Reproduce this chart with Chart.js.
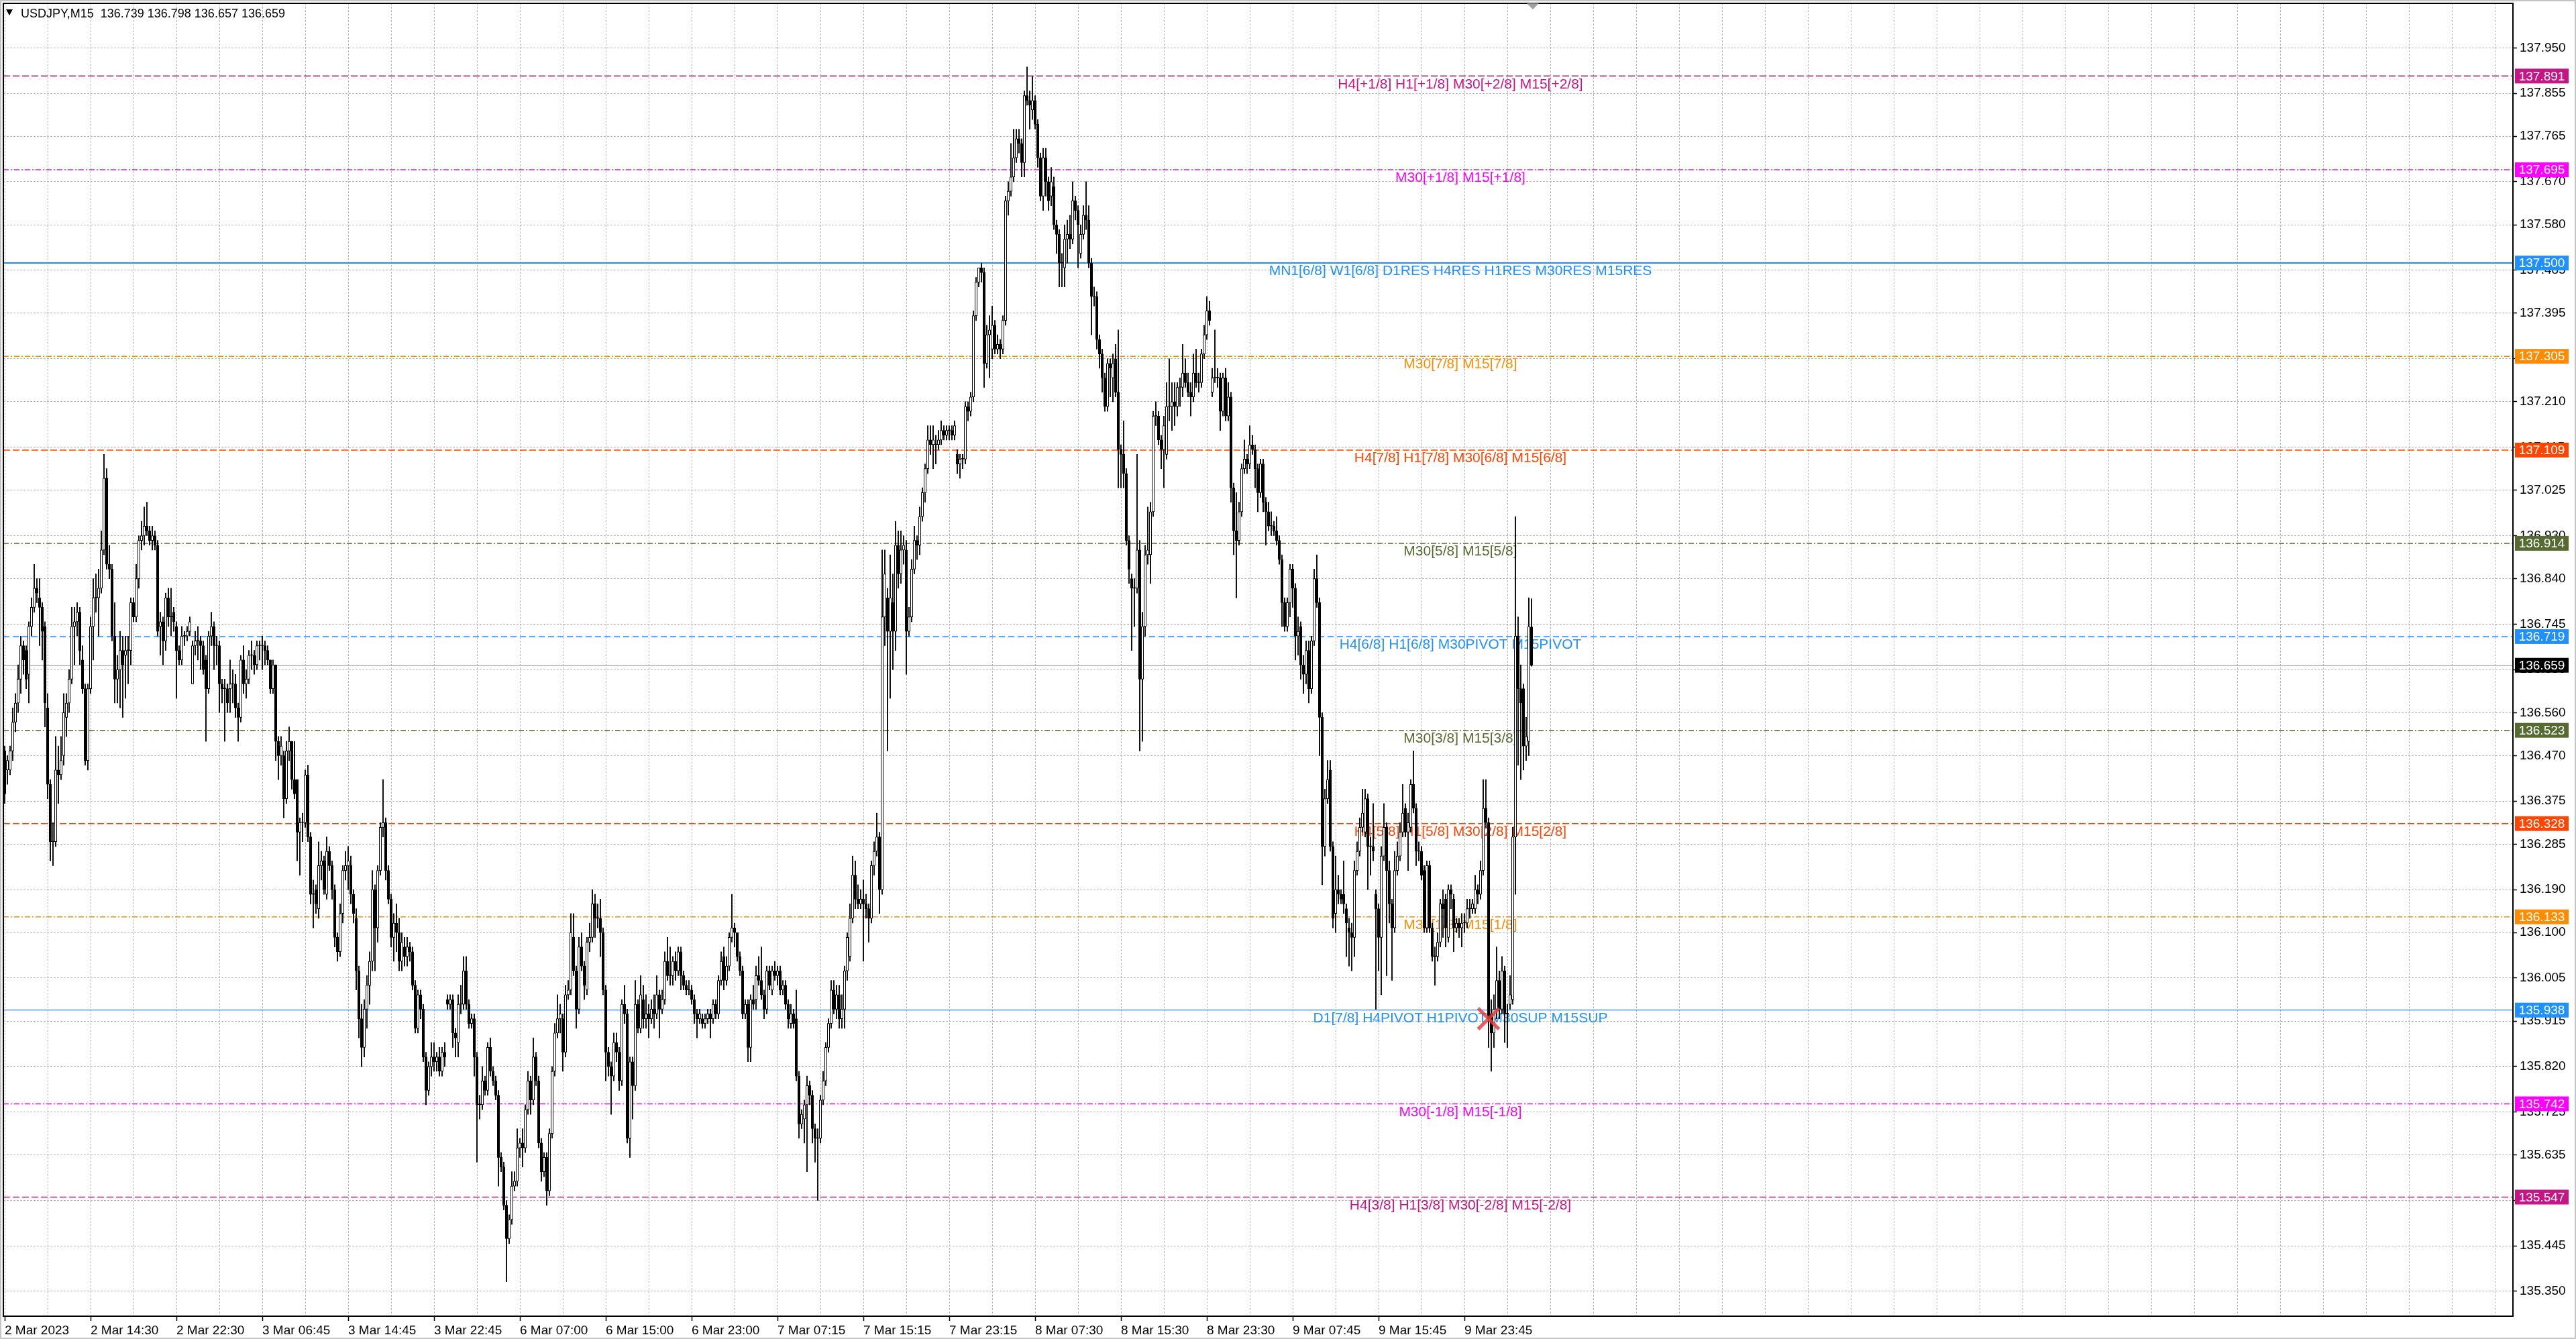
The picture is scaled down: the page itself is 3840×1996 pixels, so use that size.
<!DOCTYPE html>
<html>
<head>
<meta charset="utf-8">
<title>USDJPY,M15</title>
<script src="https://cdn.jsdelivr.net/npm/chart.js@4.4.1/dist/chart.umd.min.js"></script>
<style>
html, body { margin: 0; padding: 0; background: #fff; overflow: hidden; }
#wrap { position: relative; width: 3840px; height: 1996px; }
</style>
</head>
<body>
<div id="wrap"><canvas id="myChart"></canvas></div>
<script>
const symbol = 'USDJPY,M15';

// M15 bars, 2 Mar 2023 06:30 onwards (570 bars)
const barOpen = [
136.48,136.44,136.44,136.48,136.54,136.58,136.63,136.70,136.69,136.64,
136.74,136.78,136.82,136.80,136.78,136.74,136.57,136.41,136.29,136.29,
136.44,136.43,136.47,136.55,136.58,136.63,136.74,136.75,136.77,136.67,
136.61,136.46,136.61,136.74,136.80,136.80,136.82,136.90,137.05,136.87,
136.86,136.72,136.63,136.65,136.69,136.68,136.69,136.69,136.79,136.76,
136.84,136.92,136.93,136.95,136.94,136.92,136.93,136.91,136.74,136.75,
136.71,136.80,136.76,136.77,136.74,136.69,136.67,136.72,136.72,136.73,
136.62,136.70,136.71,136.71,136.70,136.67,136.61,136.72,136.74,136.70,
136.70,136.62,136.61,136.61,136.61,136.62,136.62,136.57,136.55,136.67,
136.62,136.63,136.68,136.68,136.66,136.70,136.70,136.70,136.69,136.67,
136.61,136.66,136.50,136.47,136.47,136.38,136.48,136.50,136.42,136.42,
136.31,136.33,136.33,136.43,136.30,136.18,136.19,136.15,136.24,136.25,
136.18,136.27,136.24,136.19,136.09,136.06,136.14,136.23,136.24,136.24,
136.18,136.13,136.02,135.92,135.86,135.94,135.99,136.04,136.19,136.11,
136.23,136.32,136.33,136.23,136.17,136.09,136.12,136.10,136.04,136.07,
136.05,136.07,136.06,135.99,135.90,135.97,135.94,135.84,135.77,135.82,
135.84,135.83,135.84,135.81,135.85,135.96,135.95,135.96,135.89,135.87,
135.95,135.95,136.02,135.95,135.91,135.92,135.84,135.74,135.74,135.79,
135.77,135.86,135.81,135.79,135.76,135.63,135.61,135.53,135.46,135.50,
135.57,135.58,135.65,135.66,135.65,135.73,135.79,135.75,135.84,135.79,
135.66,135.60,135.63,135.56,135.68,135.81,135.89,135.92,135.92,135.85,
135.97,135.98,136.09,136.02,135.94,136.07,136.03,135.98,136.08,136.09,
136.16,136.13,136.13,136.10,135.98,135.85,135.82,135.80,135.87,135.85,
135.79,135.95,135.93,135.67,135.83,135.78,135.95,135.90,135.96,135.92,
135.93,135.92,135.94,135.93,135.97,135.94,135.96,136.04,136.01,136.01,
136.04,136.02,136.06,136.01,135.99,135.98,135.98,135.96,135.93,135.92,
135.92,135.91,135.92,135.93,135.92,135.95,135.93,136.00,136.05,136.00,
136.03,136.09,136.11,136.10,136.05,136.02,135.93,135.95,135.86,135.96,
135.96,136.01,136.00,135.97,135.94,136.02,135.98,136.02,136.01,136.02,
135.98,135.99,135.95,135.91,135.93,135.92,135.80,135.70,135.71,135.74,
135.78,135.76,135.69,135.67,135.67,135.75,135.79,135.86,135.91,135.98,
135.94,135.97,135.92,135.94,136.02,136.05,136.13,136.22,136.17,136.16,
136.17,136.16,136.15,136.13,136.24,136.27,136.30,136.19,136.76,136.80,
136.73,136.79,136.73,136.91,136.85,136.90,136.90,136.73,136.76,136.86,
136.92,136.91,136.97,137.02,137.07,137.13,137.12,137.12,137.12,137.13,
137.15,137.14,137.15,137.15,137.14,137.10,137.08,137.09,137.09,137.20,
137.19,137.22,137.39,137.46,137.49,137.48,137.29,137.35,137.32,137.37,
137.32,137.33,137.32,137.38,137.63,137.65,137.68,137.72,137.76,137.75,
137.71,137.85,137.84,137.82,137.84,137.79,137.72,137.64,137.72,137.67,
137.64,137.66,137.58,137.56,137.50,137.49,137.55,137.56,137.55,137.63,
137.61,137.52,137.56,137.60,137.59,137.50,137.43,137.43,137.34,137.31,
137.26,137.20,137.29,137.26,137.30,137.23,137.11,137.10,137.06,136.92,
136.84,136.82,136.82,136.90,136.63,136.74,136.89,136.89,136.98,137.18,
137.18,137.13,137.11,137.10,137.20,137.20,137.21,137.20,137.24,137.24,
137.27,137.25,137.23,137.22,137.27,137.25,137.25,137.31,137.35,137.40,
137.23,137.26,137.26,137.26,137.19,137.26,137.18,137.22,137.03,136.94,
136.92,136.98,137.07,137.09,137.08,137.12,137.11,137.07,137.02,137.08,
137.00,136.98,136.95,136.95,136.94,136.92,136.88,136.79,136.74,136.79,
136.86,136.82,136.72,136.74,136.66,136.64,136.69,136.61,136.71,136.84,
136.79,136.55,136.28,136.38,136.44,136.28,136.14,136.19,136.18,136.18,
136.15,136.11,136.10,136.09,136.23,136.27,136.32,136.31,136.38,136.28,
136.28,136.18,136.15,136.09,136.26,136.32,136.23,136.16,136.11,136.23,
136.26,136.31,136.36,136.31,136.32,136.41,136.36,136.27,136.27,136.23,
136.11,136.24,136.11,136.05,136.05,136.08,136.16,136.17,136.09,136.19,
136.17,136.11,136.12,136.11,136.12,136.12,136.15,136.15,136.15,136.19,
136.18,136.23,136.36,136.33,135.93,135.89,135.94,136.00,135.94,136.02,
135.93,135.95,135.96,136.30,136.72,136.61,136.61,136.49,136.50,136.739
];
const barHigh = [
136.49,136.47,136.49,136.57,136.60,136.66,136.72,136.71,136.70,136.75,
136.80,136.87,136.84,136.84,136.79,136.75,136.60,136.42,136.33,136.51,
136.49,136.51,136.60,136.60,136.65,136.78,136.78,136.79,136.78,136.70,
136.62,136.62,136.76,136.84,136.85,136.86,136.94,137.10,137.07,136.91,
136.87,136.79,136.68,136.73,136.72,136.72,136.72,136.80,136.80,136.87,
136.93,136.96,136.99,137.00,136.95,136.95,136.94,136.92,136.77,136.76,
136.81,136.82,136.82,136.78,136.75,136.70,136.74,136.73,136.74,136.76,
136.71,136.73,136.74,136.72,136.71,136.68,136.73,136.77,136.75,136.72,
136.71,136.63,136.63,136.62,136.67,136.65,136.64,136.58,136.68,136.70,
136.65,136.69,136.71,136.69,136.71,136.71,136.72,136.71,136.70,136.67,
136.67,136.66,136.51,136.51,136.48,136.50,136.53,136.50,136.50,136.42,
136.34,136.35,136.44,136.45,136.31,136.21,136.20,136.29,136.27,136.26,
136.30,136.28,136.25,136.20,136.10,136.16,136.24,136.27,136.28,136.26,
136.19,136.15,136.03,135.95,135.96,136.01,136.06,136.23,136.20,136.24,
136.33,136.42,136.34,136.24,136.18,136.14,136.16,136.13,136.10,136.09,
136.09,136.08,136.07,136.00,135.98,135.98,135.95,135.85,135.83,135.87,
135.87,135.85,135.86,135.86,135.87,135.97,135.97,135.97,135.90,135.97,
135.99,136.05,136.05,135.96,135.93,135.93,135.85,135.76,135.82,135.80,
135.87,135.88,135.82,135.80,135.77,135.64,135.62,135.54,135.51,135.60,
135.60,135.69,135.67,135.69,135.74,135.81,135.80,135.88,135.85,135.80,
135.67,135.64,135.64,135.69,135.82,135.91,135.97,135.95,135.93,135.99,
136.00,136.14,136.14,136.03,136.09,136.10,136.04,136.09,136.12,136.19,
136.18,136.16,136.17,136.11,135.99,135.86,135.83,135.89,135.89,135.86,
135.96,135.99,135.94,135.84,135.84,136.00,135.96,136.01,135.99,135.97,
135.95,135.96,135.97,136.01,135.98,135.98,136.06,136.09,136.07,136.05,
136.06,136.07,136.07,136.02,136.00,136.00,135.99,135.97,135.94,135.94,
135.93,135.93,135.94,135.94,135.96,135.96,136.01,136.06,136.07,136.05,
136.10,136.18,136.12,136.10,136.06,136.03,135.96,135.96,135.97,135.99,
136.03,136.05,136.07,135.98,136.03,136.03,136.03,136.04,136.03,136.03,
136.00,136.00,135.96,135.95,135.94,135.98,135.81,135.73,135.75,135.80,
135.79,135.77,135.70,135.69,135.76,135.81,135.87,135.92,136.00,136.00,
135.99,135.99,135.97,136.03,136.10,136.16,136.26,136.25,136.20,136.19,
136.21,136.18,136.16,136.25,136.29,136.35,136.31,136.90,136.90,136.82,
136.89,136.85,136.96,136.94,136.94,136.93,136.92,136.78,136.88,136.95,
136.93,136.99,137.03,137.08,137.16,137.16,137.16,137.14,137.15,137.17,
137.16,137.16,137.16,137.16,137.17,137.11,137.10,137.10,137.21,137.21,
137.23,137.40,137.47,137.49,137.50,137.49,137.37,137.39,137.41,137.38,
137.35,137.34,137.39,137.64,137.67,137.75,137.78,137.78,137.78,137.76,
137.86,137.91,137.86,137.89,137.85,137.80,137.73,137.74,137.74,137.68,
137.70,137.68,137.59,137.57,137.52,137.58,137.59,137.60,137.67,137.64,
137.62,137.58,137.62,137.67,137.62,137.51,137.45,137.44,137.35,137.32,
137.27,137.30,137.30,137.31,137.33,137.36,137.12,137.17,137.07,136.93,
136.85,136.84,137.10,136.92,136.77,136.91,136.99,137.00,137.19,137.21,
137.19,137.14,137.18,137.25,137.30,137.25,137.25,137.25,137.26,137.33,
137.30,137.27,137.25,137.31,137.32,137.27,137.32,137.37,137.43,137.42,
137.28,137.36,137.28,137.27,137.27,137.28,137.25,137.23,137.04,137.02,
137.00,137.08,137.13,137.10,137.16,137.14,137.12,137.08,137.09,137.09,
137.01,137.00,136.98,136.96,136.97,136.93,136.89,136.80,136.80,136.87,
136.87,136.83,136.76,136.75,136.68,136.71,136.71,136.72,136.86,136.89,
136.80,136.56,136.40,136.46,136.46,136.29,136.26,136.22,136.19,136.25,
136.16,136.13,136.12,136.25,136.29,136.34,136.40,136.40,136.39,136.30,
136.37,136.19,136.16,136.28,136.37,136.33,136.25,136.17,136.27,136.29,
136.33,136.41,136.37,136.35,136.42,136.48,136.37,136.29,136.28,136.24,
136.25,136.25,136.12,136.07,136.10,136.17,136.19,136.18,136.20,136.20,
136.18,136.13,136.13,136.14,136.14,136.17,136.17,136.17,136.22,136.20,
136.25,136.42,136.42,136.34,135.96,135.97,136.07,136.02,136.05,136.03,
135.95,136.01,136.32,136.97,136.76,136.66,136.62,136.55,136.80,136.798
];
const barLow = [
136.37,136.41,136.43,136.46,136.52,136.56,136.60,136.64,136.61,136.58,
136.72,136.77,136.79,136.70,136.67,136.53,136.38,136.25,136.24,136.28,
136.37,136.42,136.45,136.51,136.56,136.62,136.66,136.72,136.66,136.60,
136.45,136.44,136.60,136.67,136.77,136.72,136.81,136.89,136.86,136.84,
136.71,136.58,136.58,136.57,136.55,136.59,136.62,136.66,136.75,136.75,
136.82,136.90,136.91,136.93,136.91,136.90,136.90,136.72,136.68,136.66,
136.69,136.74,136.72,136.73,136.59,136.66,136.66,136.70,136.71,136.72,
136.62,136.68,136.67,136.65,136.64,136.50,136.60,136.70,136.65,136.66,
136.56,136.58,136.50,136.56,136.56,136.58,136.55,136.50,136.54,136.60,
136.59,136.62,136.65,136.64,136.65,136.67,136.65,136.66,136.66,136.60,
136.60,136.46,136.42,136.45,136.34,136.37,136.46,136.40,136.38,136.25,
136.22,136.29,136.32,136.29,136.16,136.11,136.14,136.13,136.21,136.18,
136.17,136.23,136.17,136.07,136.04,136.05,136.12,136.21,136.19,136.16,
136.12,135.98,135.88,135.82,135.84,135.90,135.95,136.02,136.02,136.08,
136.22,136.30,136.21,136.16,136.07,136.04,136.06,136.02,136.02,136.03,
136.03,136.04,135.98,135.89,135.89,135.92,135.83,135.74,135.76,135.80,
135.81,135.81,135.80,135.80,135.82,135.94,135.94,135.86,135.84,135.84,
135.93,135.94,135.94,135.90,135.90,135.80,135.62,135.71,135.73,135.76,
135.76,135.80,135.78,135.75,135.57,135.60,135.52,135.37,135.45,135.49,
135.56,135.57,135.63,135.61,135.64,135.72,135.72,135.74,135.78,135.65,
135.58,135.59,135.53,135.55,135.67,135.80,135.88,135.89,135.81,135.84,
135.96,135.97,136.01,135.90,135.93,136.02,135.96,135.97,136.06,136.08,
136.09,136.11,136.05,135.97,135.79,135.80,135.72,135.79,135.83,135.77,
135.78,135.91,135.66,135.63,135.71,135.77,135.89,135.89,135.90,135.90,
135.88,135.91,135.90,135.92,135.88,135.93,135.95,136.00,135.99,135.99,
136.00,136.01,135.98,135.98,135.97,135.97,135.95,135.91,135.88,135.91,
135.90,135.90,135.91,135.88,135.91,135.92,135.92,135.99,135.98,135.99,
136.02,136.08,136.07,136.04,136.01,135.92,135.92,135.83,135.83,135.94,
135.94,135.99,135.96,135.92,135.93,135.98,135.97,136.00,135.99,135.97,
135.97,135.94,135.90,135.90,135.90,135.79,135.67,135.69,135.66,135.60,
135.74,135.66,135.62,135.54,135.66,135.74,135.78,135.85,135.90,135.93,
135.92,135.90,135.90,135.90,136.00,136.04,136.12,136.15,136.15,136.15,
136.04,136.13,136.08,136.12,136.22,136.26,136.14,136.18,136.70,136.48,
136.59,136.65,136.69,136.82,136.83,136.87,136.64,136.72,136.75,136.85,
136.88,136.89,136.96,137.00,137.06,137.10,137.07,137.08,137.11,137.12,
137.13,137.13,137.13,137.13,137.13,137.06,137.05,137.07,137.08,137.17,
137.18,137.21,137.38,137.45,137.46,137.24,137.28,137.26,137.30,137.31,
137.31,137.30,137.31,137.37,137.60,137.64,137.67,137.71,137.73,137.68,
137.68,137.83,137.78,137.80,137.78,137.70,137.63,137.61,137.64,137.61,
137.62,137.57,137.52,137.45,137.45,137.45,137.50,137.53,137.54,137.59,
137.49,137.51,137.55,137.57,137.49,137.35,137.41,137.32,137.28,137.23,
137.19,137.19,137.22,137.21,137.22,137.03,137.03,137.03,136.91,136.83,
136.69,136.74,136.81,136.48,136.50,136.72,136.87,136.83,136.97,137.16,
137.12,137.07,137.03,137.09,137.17,137.15,137.16,137.18,137.20,137.22,
137.24,137.22,137.18,137.21,137.24,137.23,137.24,137.30,137.34,137.37,
137.22,137.25,137.24,137.15,137.18,137.17,137.17,137.00,136.89,136.80,
136.91,136.97,137.06,137.06,137.07,137.10,137.03,136.98,137.01,136.98,
136.91,136.94,136.93,136.93,136.91,136.87,136.74,136.73,136.73,136.76,
136.78,136.67,136.68,136.63,136.60,136.62,136.58,136.60,136.70,136.78,
136.47,136.20,136.26,136.37,136.27,136.11,136.10,136.16,136.16,136.14,
136.05,136.03,136.02,136.05,136.22,136.26,136.31,136.30,136.19,136.22,
136.25,135.94,136.02,135.97,136.25,136.01,136.12,136.00,136.10,136.22,
136.25,136.30,136.30,136.23,136.31,136.35,136.24,136.25,136.21,136.10,
136.10,136.10,136.04,135.99,136.04,136.07,136.09,136.07,136.08,136.15,
136.06,136.10,136.09,136.07,136.10,136.11,136.13,136.14,136.14,136.16,
136.17,136.22,136.32,135.86,135.81,135.86,135.92,135.92,135.93,135.87,
135.86,135.94,135.95,136.18,136.45,136.42,136.44,136.46,136.47,136.657
];
const barClose = [
136.39,136.46,136.48,136.54,136.58,136.63,136.70,136.67,136.63,136.74,
136.78,136.82,136.81,136.78,136.73,136.58,136.41,136.29,136.29,136.44,
136.43,136.46,136.56,136.58,136.63,136.74,136.75,136.77,136.69,136.61,
136.46,136.61,136.74,136.80,136.80,136.82,136.90,137.05,136.87,136.86,
136.72,136.63,136.65,136.69,136.66,136.69,136.69,136.79,136.76,136.84,
136.92,136.93,136.95,136.94,136.92,136.93,136.91,136.73,136.75,136.71,
136.80,136.76,136.76,136.75,136.69,136.67,136.72,136.72,136.73,136.75,
136.70,136.71,136.71,136.70,136.65,136.61,136.72,136.74,136.70,136.70,
136.62,136.61,136.61,136.58,136.62,136.62,136.57,136.55,136.67,136.62,
136.63,136.68,136.68,136.66,136.70,136.70,136.70,136.69,136.67,136.61,
136.66,136.50,136.47,136.49,136.38,136.48,136.50,136.42,136.39,136.31,
136.33,136.33,136.43,136.30,136.18,136.18,136.16,136.24,136.25,136.19,
136.27,136.24,136.19,136.09,136.06,136.14,136.23,136.24,136.25,136.18,
136.14,136.02,135.92,135.86,135.94,135.99,136.04,136.19,136.11,136.23,
136.32,136.33,136.23,136.17,136.09,136.12,136.10,136.04,136.08,136.05,
136.07,136.06,135.99,135.90,135.97,135.94,135.84,135.77,135.82,135.84,
135.83,135.84,135.81,135.85,135.84,135.95,135.96,135.89,135.88,135.95,
135.95,136.02,135.95,135.91,135.92,135.84,135.74,135.74,135.79,135.77,
135.86,135.81,135.79,135.76,135.63,135.61,135.53,135.46,135.50,135.57,
135.58,135.65,135.66,135.65,135.73,135.79,135.75,135.84,135.79,135.66,
135.60,135.63,135.56,135.68,135.81,135.89,135.92,135.93,135.85,135.97,
135.98,136.10,136.02,135.94,136.07,136.03,135.99,136.08,136.09,136.16,
136.13,136.13,136.10,135.98,135.85,135.82,135.80,135.87,135.85,135.79,
135.95,135.93,135.67,135.83,135.78,135.95,135.90,135.97,135.92,135.93,
135.92,135.94,135.93,135.97,135.94,135.96,136.04,136.01,136.01,136.04,
136.02,136.06,136.01,135.99,135.98,135.98,135.96,135.93,135.92,135.93,
135.91,135.92,135.93,135.92,135.95,135.93,136.00,136.04,136.00,136.03,
136.09,136.11,136.10,136.05,136.02,135.93,135.95,135.86,135.96,135.95,
136.01,136.00,135.97,135.94,136.02,135.99,136.02,136.01,136.02,135.98,
135.99,135.95,135.92,135.93,135.91,135.80,135.70,135.72,135.74,135.78,
135.76,135.69,135.67,135.67,135.75,135.79,135.86,135.91,135.98,135.94,
135.97,135.92,135.94,136.02,136.09,136.13,136.22,136.17,136.16,136.17,
136.16,136.15,136.13,136.24,136.27,136.30,136.19,136.76,136.85,136.73,
136.80,136.73,136.91,136.85,136.90,136.91,136.73,136.76,136.86,136.92,
136.91,136.97,137.02,137.07,137.13,137.12,137.13,137.12,137.13,137.15,
137.14,137.15,137.15,137.14,137.16,137.08,137.09,137.09,137.20,137.19,
137.22,137.39,137.46,137.49,137.48,137.29,137.35,137.36,137.37,137.32,
137.33,137.32,137.38,137.63,137.65,137.68,137.72,137.76,137.75,137.71,
137.85,137.84,137.83,137.84,137.79,137.72,137.64,137.72,137.67,137.63,
137.67,137.58,137.56,137.50,137.50,137.55,137.56,137.55,137.63,137.61,
137.58,137.56,137.60,137.59,137.50,137.43,137.43,137.34,137.31,137.26,
137.20,137.29,137.28,137.29,137.23,137.11,137.10,137.06,136.92,136.86,
136.82,136.82,136.90,136.63,136.74,136.89,136.90,136.98,137.18,137.18,
137.13,137.11,137.16,137.20,137.20,137.21,137.20,137.24,137.24,137.27,
137.25,137.23,137.22,137.27,137.25,137.25,137.31,137.35,137.40,137.38,
137.26,137.26,137.26,137.19,137.26,137.18,137.22,137.03,136.94,136.92,
136.98,137.07,137.09,137.08,137.12,137.11,137.07,137.02,137.08,137.00,
136.98,136.95,136.95,136.94,136.92,136.88,136.79,136.74,136.79,136.86,
136.82,136.72,136.73,136.66,136.64,136.69,136.61,136.71,136.84,136.79,
136.55,136.28,136.38,136.42,136.28,136.13,136.19,136.18,136.17,136.16,
136.12,136.10,136.09,136.23,136.27,136.32,136.35,136.38,136.28,136.28,
136.27,136.15,136.09,136.26,136.32,136.23,136.16,136.11,136.23,136.26,
136.31,136.35,136.31,136.33,136.41,136.36,136.27,136.27,136.22,136.11,
136.24,136.11,136.05,136.05,136.08,136.16,136.15,136.11,136.19,136.18,
136.11,136.12,136.11,136.12,136.12,136.15,136.15,136.16,136.19,136.18,
136.23,136.36,136.33,135.92,135.89,135.94,136.00,135.94,136.02,135.93,
135.93,135.97,136.30,136.72,136.61,136.58,136.49,136.51,136.74,136.659
];

// time labels every 32 bars
const timeLabels = ['2 Mar 2023', '2 Mar 14:30', '2 Mar 22:30', '3 Mar 06:45', '3 Mar 14:45', '3 Mar 22:45',
  '6 Mar 07:00', '6 Mar 15:00', '6 Mar 23:00', '7 Mar 07:15', '7 Mar 15:15', '7 Mar 23:15',
  '8 Mar 07:30', '8 Mar 15:30', '8 Mar 23:30', '9 Mar 07:45', '9 Mar 15:45', '9 Mar 23:45'];

// price scale ticks
const priceTicks = [137.950, 137.855, 137.765, 137.670, 137.580, 137.485, 137.395, 137.300, 137.210, 137.115,
  137.025, 136.930, 136.840, 136.745, 136.650, 136.560, 136.470, 136.375, 136.285, 136.190,
  136.100, 136.005, 135.915, 135.820, 135.725, 135.635, 135.540, 135.445, 135.350];

// murrey / pivot levels
const levelPrices = [137.891, 137.695, 137.500, 137.305, 137.109, 136.914, 136.719,
  136.523, 136.328, 136.133, 135.938, 135.742, 135.547];
const levelTexts = [
  'H4[+1/8] H1[+1/8] M30[+2/8] M15[+2/8]',
  'M30[+1/8] M15[+1/8]',
  'MN1[6/8] W1[6/8] D1RES H4RES H1RES M30RES M15RES',
  'M30[7/8] M15[7/8]',
  'H4[7/8] H1[7/8] M30[6/8] M15[6/8]',
  'M30[5/8] M15[5/8]',
  'H4[6/8] H1[6/8] M30PIVOT M15PIVOT',
  'M30[3/8] M15[3/8]',
  'H4[5/8] H1[5/8] M30[2/8] M15[2/8]',
  'M30[1/8] M15[1/8]',
  'D1[7/8] H4PIVOT H1PIVOT M30SUP M15SUP',
  'M30[-1/8] M15[-1/8]',
  'H4[3/8] H1[3/8] M30[-2/8] M15[-2/8]'
];
const levelKind = ['outer', 'plus', 'res', 'orange', 'red', 'olive', 'pivot',
  'olive', 'red', 'orange', 'sup', 'plus', 'outer'];

// arrow object (red cross)
const crossMark = [{ x: 553, y: 135.92 }];

// ---------------------------------------- styles
const kindStyle = {
  outer:  { color: '#C71585', dash: [10, 4], width: 1.5 },
  plus:   { color: '#FF00FF', dash: [8, 3, 2, 3], width: 1.5 },
  res:    { color: '#1E90FF', dash: [], width: 2 },
  orange: { color: '#FF8C00', dash: [8, 3, 2, 3], width: 1.5 },
  red:    { color: '#FF4500', dash: [10, 4], width: 1.5 },
  olive:  { color: '#556B2F', dash: [8, 3, 2, 3], width: 1.5 },
  pivot:  { color: '#1E90FF', dash: [9, 5], width: 1.5 },
  sup:    { color: '#1E90FF', dash: [], width: 1.3 }
};

const xMin = -0.5;
const xMax = 934.75;
const labelBar = 542.5;
const fontFamily = '"Liberation Sans", Arial, sans-serif';
Chart.defaults.font.family = fontFamily;

const n = barClose.length;
const lastOpen = barOpen[n - 1], lastHigh = barHigh[n - 1], lastLow = barLow[n - 1], lastClose = barClose[n - 1];

const wicks = [];
const bodies = [];
for (let i = 0; i < n; i++) {
    wicks.push({ x: i, y: [barLow[i], barHigh[i]] });
    bodies.push({ x: i, y: [barOpen[i], barClose[i]] });
}

const gridBars = [];
for (let v = 0; v <= xMax; v += 16) gridBars.push(v);

var levelDatasets = levelPrices.map((p, i) => {
    const st = kindStyle[levelKind[i]];
    return {
        type: 'line',
        data: [{ x: xMin, y: p }, { x: xMax, y: p }],
        borderColor: st.color,
        borderWidth: st.width,
        borderDash: st.dash,
        pointRadius: 0,
        order: 10
    };
});

var priceLine = {
    type: 'line',
    data: [{ x: xMin, y: lastClose }, { x: xMax, y: lastClose }],
    borderColor: '#b0b0b0',
    borderWidth: 1.5,
    pointRadius: 0,
    order: 9
};

// keep the plot area exactly where the terminal has it
function noScalePadding(s) {
    s.paddingLeft = 0;
    s.paddingRight = 0;
    s.paddingTop = 0;
    s.paddingBottom = 0;
}

const decorations = {
    id: 'decorations',
    beforeDatasetsDraw(chart) {
        const { ctx, chartArea: a, scales: { x, y } } = chart;
        ctx.save();
        ctx.beginPath();
        ctx.rect(a.left, a.top, a.right - a.left, a.bottom - a.top);
        ctx.clip();
        ctx.font = '21px ' + fontFamily;
        ctx.textAlign = 'center';
        ctx.textBaseline = 'top';
        const lx = x.getPixelForValue(labelBar);
        levelPrices.forEach((p, i) => {
            ctx.fillStyle = kindStyle[levelKind[i]].color;
            ctx.fillText(levelTexts[i], lx, y.getPixelForValue(p) + 2);
        });
        ctx.restore();
    },
    afterDraw(chart) {
        const { ctx, chartArea: a, scales: { x, y } } = chart;
        ctx.save();
        // window edge
        ctx.strokeStyle = '#c4c4c4';
        ctx.lineWidth = 2;
        ctx.strokeRect(1, 1, chart.width - 2, chart.height - 2);
        // plot frame
        ctx.strokeStyle = '#000';
        ctx.lineWidth = 2;
        ctx.strokeRect(a.left, a.top, a.right - a.left, a.bottom - a.top);

        // price tags on the right scale
        ctx.font = '19px ' + fontFamily;
        ctx.textAlign = 'center';
        ctx.textBaseline = 'middle';
        const tags = levelPrices.map((p, i) => ({ p: p, c: kindStyle[levelKind[i]].color }));
        tags.push({ p: lastClose, c: '#000' });
        tags.forEach(t => {
            const py = y.getPixelForValue(t.p);
            ctx.fillStyle = t.c;
            ctx.fillRect(a.right + 3, py - 11, 80, 22);
            ctx.fillStyle = '#fff';
            ctx.fillText(t.p.toFixed(3), a.right + 43, py + 1);
        });

        // header
        ctx.fillStyle = '#000';
        ctx.beginPath();
        ctx.moveTo(9, 14);
        ctx.lineTo(19, 14);
        ctx.lineTo(14, 23);
        ctx.closePath();
        ctx.fill();
        ctx.font = '18px ' + fontFamily;
        ctx.textAlign = 'left';
        ctx.textBaseline = 'alphabetic';
        ctx.fillText(symbol + '  ' + [lastOpen, lastHigh, lastLow, lastClose].map(v => v.toFixed(3)).join(' '), 31, 26);

        // chart shift marker
        const sx = x.getPixelForValue(n - 0.5);
        ctx.fillStyle = '#a0a0a0';
        ctx.beginPath();
        ctx.moveTo(sx - 9, a.top);
        ctx.lineTo(sx + 9, a.top);
        ctx.lineTo(sx, a.top + 9);
        ctx.closePath();
        ctx.fill();
        ctx.restore();
    }
};

const ctx = document.getElementById('myChart');

var myChart = new Chart(ctx, {
    type: 'bar',
    data: {
        datasets: [
            {
                type: 'line',
                data: crossMark,
                showLine: false,
                pointStyle: 'crossRot',
                pointRadius: 22,
                pointBorderWidth: 5,
                pointBorderColor: 'rgba(232,64,64,0.85)',
                pointBackgroundColor: 'rgba(232,64,64,0.85)',
                order: 0
            },
            {
                label: 'bodies',
                data: bodies,
                grouped: false,
                barThickness: 3.4,
                minBarLength: 1,
                borderSkipped: false,
                borderWidth: 1,
                borderColor: '#000',
                backgroundColor: (c) => {
                    const i = c.dataIndex;
                    return barClose[i] > barOpen[i] ? '#fff' : '#000';
                },
                order: 1
            },
            {
                label: 'wicks',
                data: wicks,
                grouped: false,
                barThickness: 1.2,
                borderSkipped: false,
                borderWidth: 0,
                backgroundColor: '#000',
                order: 2
            },
            priceLine
        ].concat(levelDatasets)
    },
    options: {
        responsive: true,
        maintainAspectRatio: false,
        animation: false,
        events: [],
        layout: { autoPadding: false, padding: { left: 5, top: 5, right: 0, bottom: 0 } },
        plugins: {
            legend: { display: false },
            tooltip: { enabled: false }
        },
        scales: {
            x: {
                type: 'linear',
                position: 'bottom',
                min: xMin,
                max: xMax,
                offset: false,
                afterBuildTicks: (s) => { s.ticks = gridBars.map(v => ({ value: v })); },
                afterFit: (s) => { s.height = 34; noScalePadding(s); },
                ticks: {
                    autoSkip: false,
                    maxRotation: 0,
                    align: 'start',
                    padding: 3,
                    color: '#000',
                    font: { size: 19 },
                    callback: (v) => (v % 32 === 0 && timeLabels[v / 32] !== undefined) ? timeLabels[v / 32] : ''
                },
                grid: {
                    offset: false,
                    color: '#b8b8b8',
                    lineWidth: 1,
                    tickLength: 7,
                    tickWidth: 1.5,
                    tickBorderDash: [],
                    tickColor: (c) => (c.tick && c.tick.value % 32 === 0 && c.tick.value / 32 < timeLabels.length) ? '#000' : 'rgba(0,0,0,0)'
                },
                border: { display: false, dash: [3, 2] }
            },
            y: {
                type: 'linear',
                position: 'right',
                min: 135.298,
                max: 138.043,
                afterBuildTicks: (s) => { s.ticks = priceTicks.map(v => ({ value: v })); },
                afterFit: (s) => { s.width = 94; noScalePadding(s); },
                ticks: {
                    padding: 4,
                    color: '#000',
                    font: { size: 19 },
                    callback: (v) => v.toFixed(3)
                },
                grid: {
                    color: '#b8b8b8',
                    lineWidth: 1,
                    tickLength: 6,
                    tickWidth: 1.5,
                    tickBorderDash: [],
                    tickColor: '#000'
                },
                border: { display: false, dash: [3, 2] }
            }
        }
    },
    plugins: [decorations]
});
</script>
</body>
</html>
